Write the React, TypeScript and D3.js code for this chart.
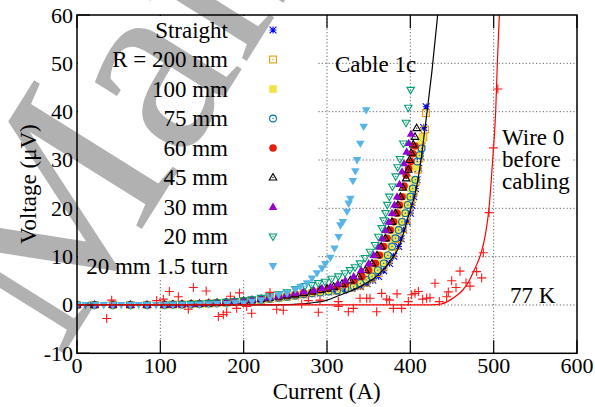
import React from "react";
import * as d3 from "d3";

const W = 595;
const H = 407;
const FONT = "Liberation Serif, DejaVu Serif, Times New Roman, serif";

const xTicks = [0, 100, 200, 300, 400, 500, 600];
const yTicks = [-10, 0, 10, 20, 30, 40, 50, 60];

type P = [number, number];

const straight: P[] = [[0,0],[21,0],[43,0],[64,0],[84,0],[105,0.05],[115,0.1],[126,0.1],[137,0.15],[147,0.2],[158,0.25],[168,0.35],[179,0.45],[189,0.55],[200,0.65],[210,0.8],[221,1.0],[231,1.2],[242,1.4],[252,1.6],[262,1.85],[272,2.1],[282,2.3],[292,2.5],[302,2.7],[311,2.8],[320,3.1],[330,3.4],[340,3.8],[348,4.4],[355,5.1],[362,5.9],[368,7.1],[375,8.6],[380,10.1],[386,12.1],[389,13.7],[392,15.5],[396,17.2],[400,19.0],[402,20.6],[404,22.4],[406,24.1],[408,25.9],[410,28.3],[412,30.8],[414,33.5],[416,36.7],[419,41.0]];
const r200: P[] = [[0,0],[21,0],[43,0],[64,0],[84,0],[105,0.05],[115,0.1],[126,0.1],[137,0.15],[147,0.2],[158,0.3],[168,0.35],[179,0.45],[189,0.6],[200,0.7],[210,0.85],[221,1.05],[231,1.25],[242,1.5],[252,1.7],[262,1.95],[272,2.2],[282,2.45],[292,2.7],[302,2.9],[311,3.0],[320,3.3],[330,3.6],[340,4.0],[347,4.6],[354,5.5],[362,6.6],[368,7.9],[373,9.2],[378,10.6],[383,12.2],[387,13.8],[391,15.7],[395,17.6],[398,19.5],[401,21.3],[404,23.3],[406.5,25.5],[409,28.0],[411,30.3],[413,32.7],[415.5,34.7],[417.6,36.3],[418.8,39.7]];
const r100: P[] = [[0,0],[21,0],[43,0],[64,0],[84,0],[105,0.05],[115,0.1],[126,0.1],[137,0.15],[147,0.2],[158,0.3],[168,0.4],[179,0.5],[189,0.6],[200,0.75],[210,0.9],[221,1.1],[231,1.3],[242,1.55],[252,1.75],[262,2.0],[272,2.3],[282,2.5],[292,2.65],[303,2.8],[315,3.2],[327,3.8],[336,4.4],[344,5.1],[352,5.9],[359,7.1],[366,8.6],[371,10.2],[376,12.1],[380,13.8],[384,15.5],[388,17.2],[392,19.0],[395,20.7],[398,22.4],[401,24.1],[404,25.9],[407,28.5],[410,31.0],[412,33.0],[414,34.5]];
const r75: P[] = [[0,0],[21,0],[43,0],[64,0],[84,0],[105,0.05],[115,0.1],[126,0.1],[137,0.15],[147,0.2],[158,0.3],[168,0.4],[179,0.5],[189,0.6],[200,0.75],[210,0.9],[221,1.1],[231,1.3],[242,1.5],[252,1.7],[262,1.95],[272,2.2],[282,2.4],[292,2.6],[302,2.8],[312,3.0],[322,3.3],[332,3.8],[340,4.5],[347,5.2],[354,5.9],[361,7.2],[368,8.6],[373,10.3],[378,12.1],[382,13.8],[386,15.5],[390,17.2],[394,19.0],[397,20.7],[400,22.4],[403,24.1],[406,25.9],[408.4,29.7],[411,31.0],[413.6,32.4]];
const r60: P[] = [[0,0],[21,0],[43,0],[64,0],[84,0],[105,0.05],[115,0.1],[126,0.15],[137,0.2],[147,0.25],[158,0.35],[168,0.45],[179,0.55],[189,0.7],[200,0.85],[210,1.0],[221,1.25],[231,1.45],[242,1.7],[252,1.95],[262,2.2],[272,2.5],[283,2.8],[292,3.1],[302,3.4],[312,3.8],[322,4.3],[332,5.0],[342,5.9],[350,7.2],[358,8.6],[363,10.3],[368,12.1],[372,13.8],[376,15.5],[380,17.2],[384,19.0],[387,20.7],[390,22.4],[392.5,24.6],[395,26.9],[398,28.3],[400.4,29.7],[403,31.3],[405.6,32.9]];
const r45: P[] = [[0,0],[21,0],[43,0],[64,0],[84,0],[105,0.05],[115,0.1],[126,0.15],[137,0.2],[147,0.25],[158,0.35],[168,0.45],[179,0.55],[189,0.7],[200,0.85],[210,1.0],[221,1.25],[231,1.5],[242,1.75],[252,2.0],[262,2.2],[272,2.5],[282,2.8],[292,3.1],[300,3.4],[308,3.8],[318,4.4],[328,5.1],[338,5.9],[346,7.2],[354,8.6],[360,10.3],[365,12.1],[370,13.8],[374,15.5],[378,17.2],[382,19.0],[385,20.7],[388,22.4],[391,24.3],[395,26.2],[397.6,28.0],[399,30.0],[401,31.5],[403.5,33.2],[405.6,34.8],[407.6,36.6]];
const r30: P[] = [[0,0],[21,0],[43,0],[64,0],[84,0],[105,0.05],[115,0.1],[126,0.15],[137,0.2],[147,0.3],[158,0.4],[168,0.5],[179,0.6],[189,0.75],[200,0.9],[210,1.1],[221,1.35],[231,1.6],[242,1.9],[252,2.2],[262,2.5],[272,2.8],[284,3.1],[294,3.5],[304,3.8],[313,4.4],[322,5.1],[332,5.9],[341,7.2],[350,8.6],[356,10.3],[362,12.1],[366,13.8],[370,15.5],[374,17.2],[378,19.0],[381,20.7],[384,22.4],[387,25.0],[390,27.6],[392.4,29.3],[395.6,31.7],[398,33.5],[400.8,35.4]];
const r20: P[] = [[0,0],[21,0],[43,0],[64,0],[84,0],[105,0.05],[115,0.1],[126,0.15],[137,0.2],[147,0.3],[158,0.4],[168,0.5],[179,0.65],[189,0.8],[200,0.95],[210,1.15],[221,1.45],[231,1.8],[242,2.2],[252,2.6],[262,3.3],[273.6,3.9],[281.6,4.1],[289.6,4.5],[297.6,4.8],[305.6,5.4],[313.6,5.9],[321.6,6.55],[327.6,7.2],[333.6,7.8],[339.6,8.6],[345.6,9.7],[351.6,11.0],[357.6,12.4],[361.6,14.1],[365.6,15.9],[368,17.5],[370.4,19.0],[372.4,20.7],[374.8,22.4],[378.5,24.5],[382.4,26.6],[384.8,28.5],[387.6,30.2],[391.6,33.4],[394.8,37.7],[397.6,40.8],[400.4,44.5]];
const r20turn: P[] = [[0,0],[10,0],[21,0],[32,0],[43,0],[53,0],[64,0],[74,0],[84,0],[95,0],[105,0],[115,0.05],[126,0.05],[136,0.05],[147,0.1],[158,0.15],[168,0.2],[180,0.2],[190,0.5],[200,0.35],[210,0.7],[221,1.0],[232,1.6],[242,2.1],[252,2.4],[262,3.2],[268,3.8],[276,4.5],[282,5.5],[288,6.6],[294,7.6],[298,8.5],[304,9.8],[309,11.7],[314,14.1],[316,16.5],[319,17.2],[324,19.3],[326,21.0],[328,22.0],[331,25.7],[334,27.7],[336,30.0],[340,33.4],[344,36.9],[347,40.3]];

const wire0: P[] = [[35.6,-2.8],[41.6,1.0],[95.6,0.9],[103.6,1.2],[110.8,2.8],[121.6,1.7],[133.6,-0.9],[139.6,3.6],[155,2.9],[169.6,-2.4],[175.6,-2.0],[179.6,-1.5],[184,1.8],[191.6,-0.7],[195,2.5],[203.6,-0.3],[209.6,-1.7],[231.6,2.6],[239.6,-0.9],[247.6,-1.1],[269.6,0.2],[277.6,0.9],[289.6,-1.5],[291.6,1.0],[313.6,0.7],[313.6,-0.3],[325.6,-1.4],[331.6,-0.7],[339.6,1.4],[347.6,1.4],[351.6,1.4],[359.6,-1.4],[365.6,2.4],[371.6,1.2],[375,1.0],[379.6,-0.7],[384,2.3],[389.6,-0.7],[397.6,0.7],[401.6,2.1],[405.6,2.4],[409.6,2.8],[414.8,1.2],[419.6,1.4],[423.6,1.5],[429.6,4.5],[434.8,0.7],[443.6,1.7],[445.6,2.7],[449.6,5.0],[454.8,3.6],[459.6,7.0],[466.8,4.6],[471.6,3.9],[479.6,6.9],[485.6,5.6],[487.6,10.8],[494.4,19.1],[499.6,32.5],[505,44.7]];

const cableFit: P[] = [[0,0],[100,0],[200,0],[230,0.02],[260,0.12],[280,0.4],[300,1.0],[315,2.0],[330,3.0],[345,4.3],[357,5.6],[367,7.2],[377,9.3],[387,12.3],[397,18.0],[407.6,24.5],[412.8,30.0],[416.8,35.5],[420.8,41.0],[426,48.5],[432.8,60]];
const wireFit: P[] = [[0,0],[200,0],[400,0],[425,0.02],[437,0.2],[447.6,1.0],[456,2.0],[463,3.1],[470,4.8],[475,6.6],[480,8.5],[485,10.8],[490,14.5],[494.4,20.0],[498.8,30.0],[502.4,40.0],[504.4,50.0],[506.8,60]];

const seriesNames = ["Straight", "R = 200 mm", "100 mm", "75 mm", "60 mm", "45 mm", "30 mm", "20 mm", "20 mm 1.5 turn"];
const seriesColors = ["#0000ff", "#e69f00", "#f0e442", "#0072b2", "#e51e10", "#000000", "#9400d3", "#009e73", "#56b4e9"];
const seriesShapes = ["star", "sqOpen", "sqFill", "circOpen", "circFill", "triOpen", "triFill", "invOpen", "invFill"];
const seriesData = [straight, r200, r100, r75, r60, r45, r30, r20, r20turn];

function Marker({ shape, color, x, y }: { shape: string; color: string; x: number; y: number }) {
  const s = 3.4;
  const sw = 1.1;
  const dot = <circle cx={x} cy={y} r={0.7} fill={color} />;
  switch (shape) {
    case "star":
      return (
        <path d={`M${x - s},${y}H${x + s}M${x},${y - s}V${y + s}M${x - s},${y - s}L${x + s},${y + s}M${x - s},${y + s}L${x + s},${y - s}`} stroke={color} strokeWidth={sw} fill="none" />
      );
    case "sqOpen":
      return (<g><rect x={x - s} y={y - s} width={2 * s} height={2 * s} fill="none" stroke={color} strokeWidth={sw} />{dot}</g>);
    case "sqFill":
      return <rect x={x - s - 0.4} y={y - s - 0.4} width={2 * s + 0.8} height={2 * s + 0.8} fill={color} />;
    case "circOpen":
      return (<g><circle cx={x} cy={y} r={s} fill="none" stroke={color} strokeWidth={sw} />{dot}</g>);
    case "circFill":
      return <circle cx={x} cy={y} r={s + 0.4} fill={color} />;
    case "triOpen":
      return (<g><path d={`M${x},${y - s * 1.15}L${x + s * 1.1},${y + s * 0.75}L${x - s * 1.1},${y + s * 0.75}Z`} fill="none" stroke={color} strokeWidth={sw} />{dot}</g>);
    case "triFill":
      return <path d={`M${x},${y - s * 1.3}L${x + s * 1.25},${y + s * 0.85}L${x - s * 1.25},${y + s * 0.85}Z`} fill={color} />;
    case "invOpen":
      return (<g><path d={`M${x},${y + s * 1.15}L${x + s * 1.1},${y - s * 0.75}L${x - s * 1.1},${y - s * 0.75}Z`} fill="none" stroke={color} strokeWidth={sw} />{dot}</g>);
    case "invFill":
      return <path d={`M${x},${y + s * 1.3}L${x + s * 1.25},${y - s * 0.85}L${x - s * 1.25},${y - s * 0.85}Z`} fill={color} />;
    default:
      return null;
  }
}

export default function App() {
  const x = d3.scaleLinear().domain([0, 600]).range([77, 577]);
  const y = d3.scaleLinear().domain([-10, 60]).range([353.3, 15]);
  const line = d3.line<P>().x((d) => x(d[0])).y((d) => y(d[1])).curve(d3.curveMonotoneX);
  const left = x(0), right = x(600), top = y(60), bottom = y(-10);
  const tick = 13;
  const legX0 = left, legX1 = 318, legY1 = 280;
  const legRowY = (i: number) => 30 + i * 29.5;
  const tf = { fontFamily: FONT };

  return (
    <svg width={W} height={H} style={{ display: "block", position: "absolute", left: 0, top: 0, fontFamily: FONT }}>
      <rect x={0} y={0} width={W} height={H} fill="#fff" />
      <defs>
        <clipPath id="plot"><rect x={left} y={top} width={right - left} height={bottom - top} /></clipPath>
      </defs>
      <g stroke="#555" strokeWidth={0.9} strokeDasharray="1.2,2.2">
        {xTicks.slice(1, -1).map((t) => (<line key={"gx" + t} x1={x(t)} x2={x(t)} y1={top} y2={bottom} />))}
        {yTicks.slice(1, -1).map((t) => (<line key={"gy" + t} x1={left} x2={right} y1={y(t)} y2={y(t)} />))}
      </g>
      <g stroke="#000" strokeWidth={1.2}>
        {xTicks.map((t) => (<line key={"tb" + t} x1={x(t)} x2={x(t)} y1={bottom} y2={bottom - tick} />))}
        {xTicks.map((t) => (<line key={"tt" + t} x1={x(t)} x2={x(t)} y1={top} y2={top + tick} />))}
        {yTicks.map((t) => (<line key={"tl" + t} x1={left} x2={left + tick} y1={y(t)} y2={y(t)} />))}
      </g>
      <rect x={legX0 + 1} y={top + 1} width={legX1 - legX0 - 1} height={legY1 - top - 1} fill="#fff" />
      <rect x={500} y={126} width={72} height={68} fill="#fff" />
      <g clipPath="url(#plot)">
        {seriesData.map((data, si) => (
          <g key={"s" + si}>
            {data.map((d, i) => (
              <Marker key={i} shape={seriesShapes[si]} color={seriesColors[si]} x={x(d[0])} y={y(d[1])} />
            ))}
          </g>
        ))}
        <path d={line(cableFit) || ""} fill="none" stroke="#000" strokeWidth={1.2} />
        <path d={line(wireFit) || ""} fill="none" stroke="#ff0000" strokeWidth={1.2} />
        <g stroke="#ff1a1a" strokeWidth={1.1}>
          {wire0.map((d, i) => {
            const px = x(d[0]), py = y(d[1]);
            return <path key={"w" + i} d={`M${px - 4.5},${py}H${px + 4.5}M${px},${py - 4.5}V${py + 4.5}`} />;
          })}
        </g>
      </g>
      <rect x={left} y={top} width={right - left} height={bottom - top} fill="none" stroke="#000" strokeWidth={1.5} />
      <g fontSize={22} fill="#000">
        {xTicks.map((t) => (<text key={"lx" + t} style={tf} x={x(t)} y={373} textAnchor="middle">{t}</text>))}
        {yTicks.map((t) => (<text key={"ly" + t} style={tf} x={73} y={y(t) + 7.5} textAnchor="end">{t}</text>))}
      </g>
      <text style={tf} x={326.7} y={399} fontSize={23} textAnchor="middle">Current (A)</text>
      <text style={tf} transform={`translate(36,${(top + bottom) / 2}) rotate(-90)`} fontSize={23} textAnchor="middle">Voltage (μV)</text>
      <g fontSize={23}>
        {seriesNames.map((n, i) => (
          <g key={"lg" + i}>
            <text style={tf} x={228} y={legRowY(i) + 7.5} textAnchor="end">{n}</text>
            <Marker shape={seriesShapes[i]} color={seriesColors[i]} x={273} y={legRowY(i)} />
          </g>
        ))}
      </g>
      <g fontSize={23}>
        <text style={tf} x={335} y={72}>Cable 1c</text>
        <text style={tf} x={502} y={145}>Wire 0</text>
        <text style={tf} x={502} y={167}>before</text>
        <text style={tf} x={502} y={189}>cabling</text>
        <text style={tf} x={510} y={303}>77 K</text>
      </g>
      <text style={tf} x={60} y={360} transform="rotate(-58,60,360)" fontSize={260} fill="#000" opacity={0.3}>Man</text>
    </svg>
  );
}
